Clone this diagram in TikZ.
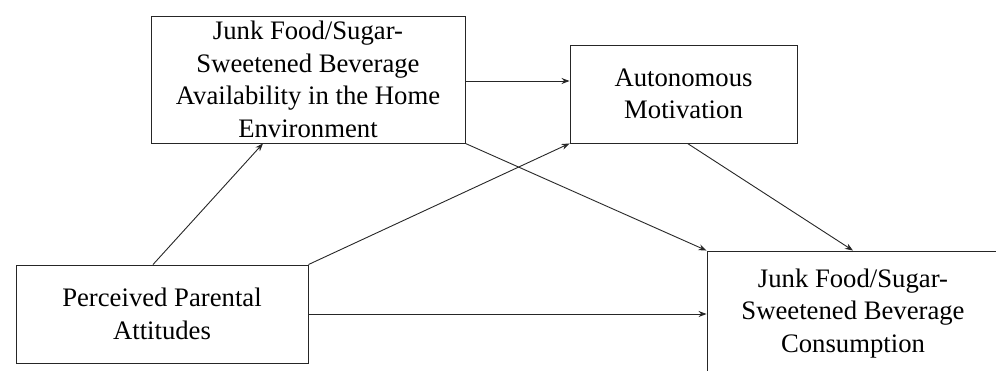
\documentclass[tikz,border=0pt]{standalone}
\usepackage{fontspec}
\setmainfont{Liberation Serif}
\usetikzlibrary{arrows.meta}
\begin{document}
\begin{tikzpicture}[x=1pt,y=-1pt,
  box/.style={draw=black!85,line width=0.9pt,rectangle,align=center,inner sep=0pt,
    font=\fontsize{26.7}{32.5}\selectfont},
  conn/.style={draw=black!85,line width=0.9pt,-{Stealth[length=8pt,width=6pt]}}]
\useasboundingbox (0,0) rectangle (996,370);
\node[box,minimum width=314pt,minimum height=127pt] (A) at (308,79.5)
  {Junk Food/Sugar-\\Sweetened Beverage\\Availability in the Home\\Environment};
\node[box,minimum width=227pt,minimum height=98pt] (B) at (683.5,94)
  {Autonomous\\Motivation};
\node[box,minimum width=292pt,minimum height=125pt] (C) at (853,313.5)
  {Junk Food/Sugar-\\Sweetened Beverage\\Consumption};
\node[box,minimum width=292pt,minimum height=98pt] (D) at (162,314)
  {Perceived Parental\\Attitudes};
\draw[conn] ([xshift=-9pt]D.north) -- ([xshift=-45pt]A.south);
\draw[conn] ([yshift=-1.5pt]A.east) -- ([yshift=-1.5pt]A.east -| B.west);
\draw[conn] (D.north east) -- (B.south west);
\draw[conn] (A.south east) -- (C.north west);
\draw[conn] ([xshift=4pt]B.south) -- (C.north);
\draw[conn] (D.east) -- (D.east -| C.west);
\end{tikzpicture}
\end{document}
